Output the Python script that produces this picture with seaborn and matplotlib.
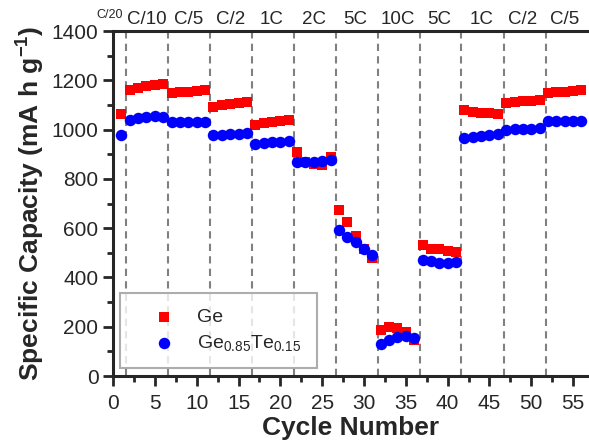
import seaborn as sns
import matplotlib.pyplot as plt
import matplotlib.transforms as mtransforms
from matplotlib.ticker import MultipleLocator
import pandas as pd
import numpy as np

# cycle index and measured capacities (mA h g-1)
cycles = list(range(1, 57))
ge = [1065,
      1160, 1170, 1176, 1180, 1185,
      1148, 1152, 1155, 1158, 1162,
      1093, 1100, 1104, 1108, 1112,
      1020, 1026, 1030, 1035, 1040,
      909, 868, 862, 858, 888,
      672, 627, 570, 516, 478,
      186, 200, 195, 178, 148,
      530, 515, 515, 508, 502,
      1078, 1070, 1068, 1066, 1062,
      1108, 1112, 1115, 1118, 1122,
      1150, 1153, 1155, 1157, 1160]
gete = [977,
        1040, 1048, 1053, 1055, 1052,
        1033, 1031, 1030, 1030, 1032,
        977, 980, 982, 983, 985,
        940, 945, 948, 950, 955,
        868, 870, 870, 872, 878,
        594, 566, 545, 516, 490,
        130, 148, 158, 163, 155,
        473, 468, 460, 458, 462,
        965, 970, 974, 978, 982,
        1000, 1002, 1003, 1004, 1005,
        1036, 1036, 1036, 1036, 1037]

rates = ["C/10", "C/5", "C/2", "1C", "2C", "5C", "10C", "5C", "1C", "C/2", "C/5"]
rate_centers = [4, 9, 14, 19, 24, 29, 34, 39, 44, 49, 54]
boundaries = [1.5, 6.6, 11.6, 16.6, 21.6, 26.6, 31.7, 36.7, 41.6, 46.7, 51.7]

lab_ge = "Ge"
lab_gete = "Ge$_{0.85}$Te$_{0.15}$"
df = pd.DataFrame({
    "Cycle": cycles + cycles,
    "Capacity": ge + gete,
    "Sample": [lab_ge] * len(ge) + [lab_gete] * len(gete),
})

sns.set_style("ticks")
plt.rcParams["font.family"] = ["Liberation Sans", "DejaVu Sans"]
plt.rcParams["mathtext.fontset"] = "custom"
plt.rcParams["mathtext.rm"] = "Liberation Sans"
plt.rcParams["mathtext.it"] = "Liberation Sans:italic"
plt.rcParams["mathtext.bf"] = "Liberation Sans:bold"

fig = plt.figure(figsize=(5.89, 4.45), dpi=100)
ax = fig.add_axes([0.1919, 0.155, 0.8081, 0.775])

for b in boundaries:
    ax.axvline(b, color="#808080", lw=1.5, ls=(0, (3.5, 2.5)), zorder=1)

sns.scatterplot(data=df[df.Sample == lab_ge], x="Cycle", y="Capacity",
                marker="s", color="#ff0000", s=55, linewidth=0,
                label=lab_ge, ax=ax, zorder=3)
sns.scatterplot(data=df[df.Sample == lab_gete], x="Cycle", y="Capacity",
                marker="o", color="#0000ff", s=68, linewidth=0,
                label=lab_gete, ax=ax, zorder=4)

ax.set_xlim(0, 56.9)
ax.set_ylim(0, 1400)
ax.xaxis.set_major_locator(MultipleLocator(5))
ax.xaxis.set_minor_locator(MultipleLocator(2.5))
ax.yaxis.set_major_locator(MultipleLocator(200))
ax.yaxis.set_minor_locator(MultipleLocator(100))
ax.tick_params(which="major", direction="out", length=7, width=2, labelsize=15)
ax.tick_params(which="minor", direction="out", length=4, width=2)
ax.tick_params(axis="x", which="major", pad=6)
for side in ["left", "bottom", "top"]:
    ax.spines[side].set_linewidth(2.2)
ax.spines["right"].set_visible(False)

ax.set_xlabel("Cycle Number", fontsize=19, fontweight="bold", labelpad=2)
ax.set_ylabel("Specific Capacity (mA h g$^{\\mathbf{-1}}$)", fontsize=19,
              fontweight="bold", labelpad=3)

trans = mtransforms.blended_transform_factory(ax.transData, ax.transAxes)
for name, xc in zip(rates, rate_centers):
    ax.text(xc, 1.035, name, transform=trans, ha="center", va="center", fontsize=13.5)
ax.text(-0.4, 1.048, "C/20", transform=trans, ha="center", va="center", fontsize=9)

leg = ax.legend(loc="lower left", bbox_to_anchor=(0.014, 0.022), fontsize=14,
                frameon=True, fancybox=False, edgecolor="#999999",
                borderpad=0.8, handlelength=3.0, handletextpad=0.2,
                borderaxespad=0, labelspacing=0.35, markerscale=1.0)
leg.get_frame().set_linewidth(1.5)

fig.savefig("out.png", dpi=100)
plt.close()
